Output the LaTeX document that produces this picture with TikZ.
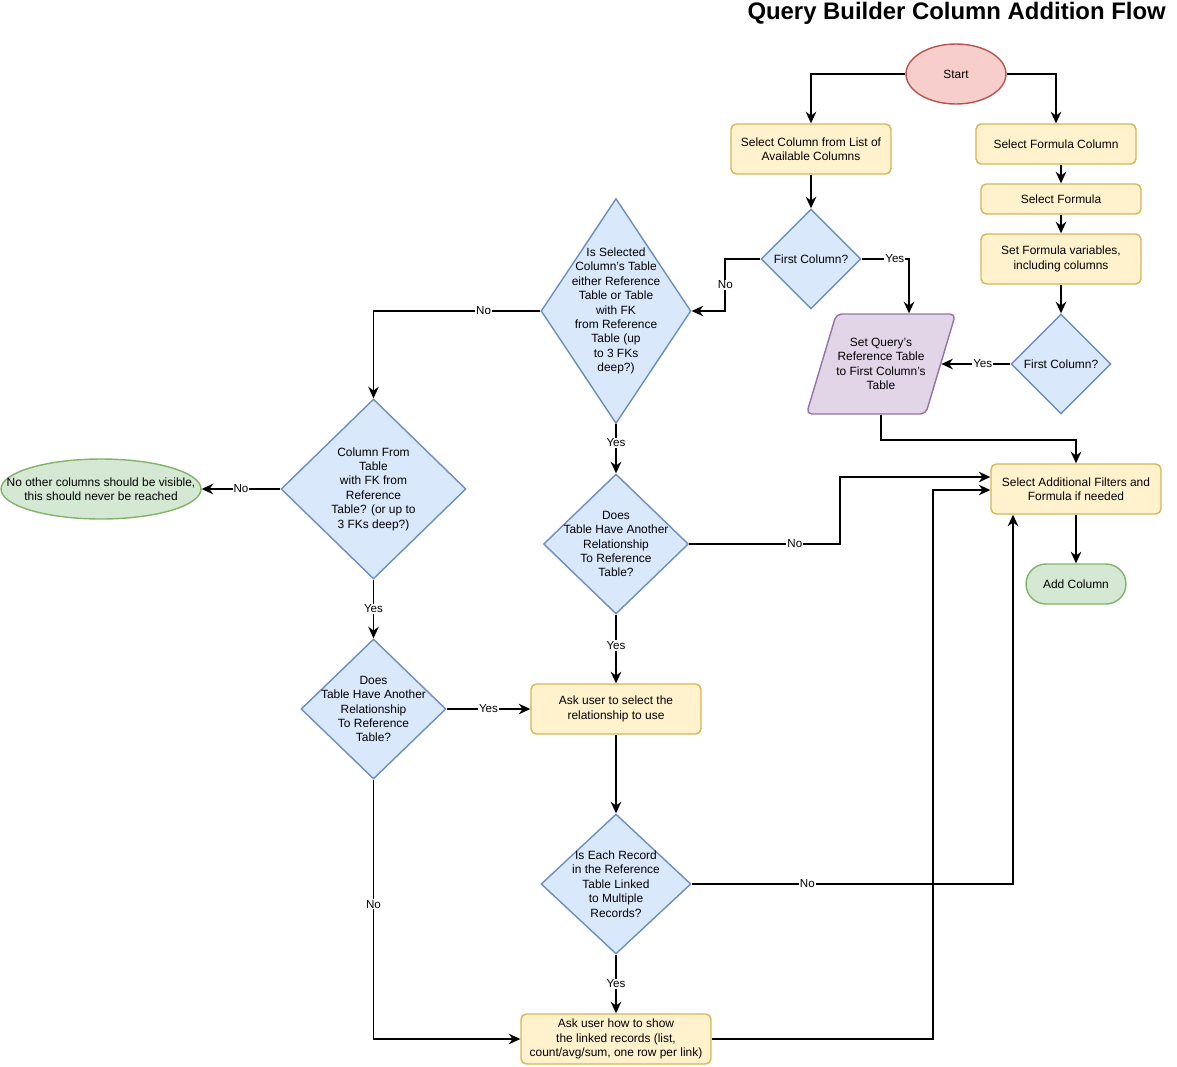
\documentclass[tikz,border=0pt]{standalone}
\usepackage{fontspec}
\setmainfont{Liberation Sans}
\usepackage{tikz}
\usetikzlibrary{shapes.geometric, arrows.meta, positioning, calc}

\definecolor{procfill}{HTML}{FFF2CC}
\definecolor{procline}{HTML}{D6B656}
\definecolor{decfill}{HTML}{DAE8FC}
\definecolor{decline}{HTML}{6C8EBF}
\definecolor{endfill}{HTML}{D5E8D4}
\definecolor{endline}{HTML}{82B366}
\definecolor{startfill}{HTML}{F8CECC}
\definecolor{startline}{HTML}{B85450}
\definecolor{iofill}{HTML}{E1D5E7}
\definecolor{ioline}{HTML}{9673A6}

\begin{document}
\begin{tikzpicture}[
    x=0.02cm, y=-0.02cm,
    box/.style={draw=procline, fill=procfill, rectangle, rounded corners=3pt, line width=0.8pt, align=center, font=\fontsize{6.8}{8.2}\selectfont, inner sep=2pt},
    decision/.style={draw=decline, fill=decfill, diamond, line width=0.8pt, inner sep=0pt},
    dtext/.style={align=center, font=\fontsize{6.8}{8.2}\selectfont, inner sep=0pt},
    terminal/.style={draw=endline, fill=endfill, line width=0.8pt, align=center, font=\fontsize{6.8}{8.2}\selectfont, inner sep=0pt},
    io/.style={draw=ioline, fill=iofill, trapezium, trapezium left angle=60, trapezium right angle=120, trapezium stretches body=true, rounded corners=3pt, line width=0.8pt, align=center, font=\fontsize{6.8}{8.2}\selectfont, inner sep=0pt},
    arrow/.style={-{Stealth[length=2.3mm, width=2.1mm]}, line width=1.1pt},
    lbl/.style={fill=white, inner sep=0.6pt, font=\fontsize{6.6}{7.5}\selectfont},
]
\useasboundingbox (0,0) rectangle (1177,1066);

% Title
\node[font=\fontsize{13.6}{16}\selectfont\bfseries, anchor=east, inner sep=0pt] (title) at (1166,13) {Query Builder Column Addition Flow};

% Start
\node[ellipse, draw=startline, fill=startfill, line width=0.8pt, minimum width=2cm, minimum height=1.2cm, inner sep=0pt, font=\fontsize{6.8}{8.2}\selectfont] (start) at (956,74) {Start};

% Column branch
\node[box, minimum width=3.2cm, minimum height=1cm] (sel) at (811,149) {Select Column from List of\\Available Columns};
\node[decision, minimum width=2cm, minimum height=2cm, label={[dtext]center:First Column?}] (fc1) at (811,259) {};

% Formula branch
\node[box, minimum width=3.2cm, minimum height=0.8cm] (formcol) at (1056,144) {Select Formula Column};
\node[box, minimum width=3.2cm, minimum height=0.6cm] (selformula) at (1061,199) {Select Formula};
\node[box, minimum width=3.2cm, minimum height=1cm] (setvars) at (1061,259) {Set Formula variables,\\including columns};
\node[decision, minimum width=2cm, minimum height=2cm, label={[dtext]center:First Column?}] (fc2) at (1061,364) {};

% Reference table
\node[io, minimum width=2.88cm, minimum height=2cm] (setref) at (881,364) {Set Query's\\Reference Table\\to First Column's\\Table};

% Reference checks
\node[decision, minimum width=3cm, minimum height=4.5cm, label={[dtext]center:Is Selected\\Column's Table\\either Reference\\Table or Table\\with FK\\from Reference\\Table (up\\to 3 FKs\\deep?)}] (issel) at (616,311) {};
\node[decision, minimum width=3.7cm, minimum height=3.6cm, label={[dtext]center:Column From\\Table\\with FK from\\Reference\\Table? (or up to\\3 FKs deep?)}] (colfrom) at (373.5,489) {};
\node[terminal, ellipse, minimum width=4cm, minimum height=1.2cm, label={[dtext]center:No other columns should be visible,\\this should never be reached}] (noother) at (101,489) {};

% Relationships
\node[decision, minimum width=2.9cm, minimum height=2.8cm, label={[dtext]center:Does\\Table Have Another\\Relationship\\To Reference\\Table?}] (does1) at (616,544) {};
\node[decision, minimum width=2.9cm, minimum height=2.8cm, label={[dtext]center:Does\\Table Have Another\\Relationship\\To Reference\\Table?}] (does2) at (373.5,709) {};
\node[box, minimum width=3.4cm, minimum height=1cm] (askrel) at (616,709) {Ask user to select the\\relationship to use};
\node[decision, minimum width=3cm, minimum height=2.8cm, label={[dtext]center:Is Each Record\\in the Reference\\Table Linked\\to Multiple\\Records?}] (iseach) at (616,884) {};
\node[box, minimum width=3.8cm, minimum height=1cm] (askshow) at (616,1039) {Ask user how to show\\the linked records (list,\\count/avg/sum, one row per link)};

% End
\node[box, minimum width=3.4cm, minimum height=1cm] (addfilt) at (1076,489) {Select Additional Filters and\\Formula if needed};
\node[terminal, rectangle, rounded corners=0.4cm, minimum width=2cm, minimum height=0.8cm] (addcol) at (1076,584) {Add Column};

% Arrows
\draw[arrow] (start.west) -| (sel.north);
\draw[arrow] (start.east) -| (formcol.north);
\draw[arrow] (sel) -- (fc1);
\draw[arrow] (selformula.north |- formcol.south) -- (selformula.north);
\draw[arrow] (selformula) -- (setvars);
\draw[arrow] (setvars) -- (fc2);
\draw[arrow] (fc1.east) -| node[lbl, pos=0.35]{Yes} ([xshift=0.56cm]setref.north);
\draw[arrow] (fc1.west) -- ++(-35,0) |- node[lbl, pos=0.25]{No} (issel.east);
\draw[arrow] (fc2.west) -- node[lbl, pos=0.4]{Yes} (setref.right side);
\draw[arrow] (setref.south) -- ++(0,25) -| (addfilt.north);
\draw[arrow] (issel.west) -| node[lbl, pos=0.17]{No} (colfrom.north);
\draw[arrow] (issel.south) -- node[lbl, pos=0.38]{Yes} (does1.north);
\draw[arrow] (colfrom.west) -- node[lbl]{No} (noother.east);
\draw[arrow] (colfrom.south) -- node[lbl]{Yes} (does2.north);
\draw[arrow] (does1.east) -- node[lbl, pos=0.7]{No} ++(151,0) |- ($(addfilt.west)+(0,-12)$);
\draw[arrow] (does1.south) -- node[lbl, pos=0.45]{Yes} (askrel.north);
\draw[arrow] (does2.east) -- node[lbl]{Yes} (askrel.west);
\draw[arrow] (does2.south) |- node[lbl, pos=0.24]{No} (askshow.west);
\draw[arrow] (askrel) -- (iseach);
\draw[arrow] (iseach.east) -| node[lbl, pos=0.18]{No} ($(addfilt.south)+(-63,0)$);
\draw[arrow] (iseach.south) -- node[lbl]{Yes} (askshow.north);
\draw[arrow] (askshow.east) -- ++(221,0) |- ($(addfilt.west)+(0,1)$);
\draw[arrow] (addfilt) -- (addcol);

\end{tikzpicture}
\end{document}
